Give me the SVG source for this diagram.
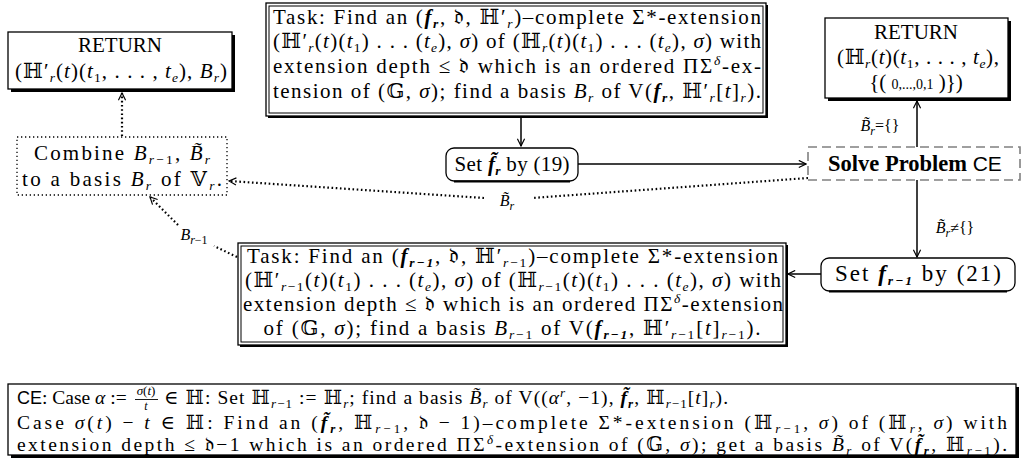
<svg xmlns="http://www.w3.org/2000/svg" width="1024" height="464" viewBox="0 0 1024 464">
<style>
.t{font-family:"Liberation Serif","DejaVu Serif",serif;font-size:21px;fill:#000}
.i{font-style:italic}
.b{font-weight:bold;font-style:italic}
.sb{font-size:13.5px;baseline-shift:-4px}
.sp{font-size:13.5px;baseline-shift:8px}
.sf{font-family:"Liberation Sans","DejaVu Sans",sans-serif;font-size:19px}
.lbl{font-size:16px}
.lbl .sb{font-size:12px;baseline-shift:-4px}
.ce{font-size:19.5px}
.ce .sb{font-size:13px;baseline-shift:-3.5px}
.ce .sp{font-size:13px;baseline-shift:7px}
.ce .sf{font-size:18px}
.box{fill:#fff;stroke:#000;stroke-width:1.3}
.inner{fill:none;stroke:#000;stroke-width:1}
.sh{fill:#000}
.solid{fill:none;stroke:#000;stroke-width:1.5}
.dot{fill:none;stroke:#000;stroke-width:2.2;stroke-dasharray:1.6 2.6}
</style>
<defs>
<marker id="ah" viewBox="0 0 10 10" refX="9" refY="5" markerWidth="9" markerHeight="9" markerUnits="userSpaceOnUse" orient="auto">
<path d="M1,1 L9,5 L1,9" fill="none" stroke="#000" stroke-width="1.3"/>
</marker>
</defs>
<rect width="1024" height="464" fill="#fff"/>

<g id="connectors">
<path class="dot" d="M122,136 L122,93" marker-end="url(#ah)"/>
<path class="solid" d="M521,117 L521,146" marker-end="url(#ah)"/>
<path class="solid" d="M578,164 L806,164" marker-end="url(#ah)"/>
<path class="solid" d="M917,180 L917,101" marker-end="url(#ah)"/>
<path class="solid" d="M917,180 L917,257" marker-end="url(#ah)"/>
<path class="solid" d="M821,274 L788,274" marker-end="url(#ah)"/>
<path class="dot" d="M808,178 L532,198"/>
<path class="dot" d="M484,198 L229,181" marker-end="url(#ah)"/>
<path class="dot" d="M237,257 L214,246"/>
<path class="dot" d="M178,225 L150,197" marker-end="url(#ah)"/>
<text class="t lbl" x="507" y="206" text-anchor="middle"><tspan class="i">B̃</tspan><tspan class="sb i">r</tspan></text>
<text class="t lbl" x="880" y="131" text-anchor="middle"><tspan class="i">B̃</tspan><tspan class="sb i">r</tspan>={}</text>
<text class="t lbl" x="955" y="233" text-anchor="middle"><tspan class="i">B̃</tspan><tspan class="sb i">r</tspan>≠{}</text>
<text class="t lbl" x="194" y="240" text-anchor="middle"><tspan class="i">B</tspan><tspan class="sb"><tspan class="i">r</tspan>−1</tspan></text>
</g>

<g id="return-left">
<rect class="sh" x="11" y="35" width="224" height="57"/>
<rect class="box" x="8" y="32" width="224" height="57"/>
<text class="t" x="120" y="52" text-anchor="middle">RETURN</text>
<text class="t" x="121" y="78" text-anchor="middle" textLength="212">(ℍ′<tspan class="sb i">r</tspan>(<tspan class="i">t</tspan>)(<tspan class="i">t</tspan><tspan class="sb">1</tspan>, . . . , <tspan class="i">t</tspan><tspan class="sb i">e</tspan>), <tspan class="i">B</tspan><tspan class="sb i">r</tspan>)</text>
</g>

<g id="task-top">
<rect class="sh" x="268" y="5" width="500" height="113"/>
<rect class="box" x="266" y="3" width="500" height="113"/>
<rect class="inner" x="269" y="6" width="494" height="107"/>
<text class="t" x="273" y="24" textLength="488">Task: Find an (<tspan class="b">f</tspan><tspan class="sb b">r</tspan>, 𝔡, ℍ′<tspan class="sb i">r</tspan>)–complete Σ*-extension</text>
<text class="t" x="273" y="48" textLength="488">(ℍ′<tspan class="sb i">r</tspan>(<tspan class="i">t</tspan>)(<tspan class="i">t</tspan><tspan class="sb">1</tspan>) . . . (<tspan class="i">t</tspan><tspan class="sb i">e</tspan>), <tspan class="i">σ</tspan>) of (ℍ<tspan class="sb i">r</tspan>(<tspan class="i">t</tspan>)(<tspan class="i">t</tspan><tspan class="sb">1</tspan>) . . . (<tspan class="i">t</tspan><tspan class="sb i">e</tspan>), <tspan class="i">σ</tspan>) with</text>
<text class="t" x="273" y="73" textLength="488">extension depth ≤ 𝔡 which is an ordered ΠΣ<tspan class="sp i">δ</tspan>-ex-</text>
<text class="t" x="273" y="98" textLength="488">tension of (𝔾, <tspan class="i">σ</tspan>); find a basis <tspan class="i">B</tspan><tspan class="sb i">r</tspan> of V(<tspan class="b">f</tspan><tspan class="sb b">r</tspan>, ℍ′<tspan class="sb i">r</tspan>[<tspan class="i">t</tspan>]<tspan class="sb i">r</tspan>).</text>
</g>

<g id="return-right">
<rect class="sh" x="828" y="21" width="183" height="80"/>
<rect class="box" x="825" y="18" width="183" height="80"/>
<text class="t" x="916" y="39" text-anchor="middle">RETURN</text>
<text class="t" x="918" y="64" text-anchor="middle" textLength="162">(ℍ<tspan class="sb i">r</tspan>(<tspan class="i">t</tspan>)(<tspan class="i">t</tspan><tspan class="sb">1</tspan>, . . . , <tspan class="i">t</tspan><tspan class="sb i">e</tspan>),</text>
<text class="t" x="916" y="89" text-anchor="middle">{( <tspan style="font-size:14px">0,...,0,1</tspan> )})</text>
</g>

<g id="combine">
<rect x="17" y="137" width="210" height="58" fill="#fff" stroke="#000" stroke-width="1.3" stroke-dasharray="1.3 2.7"/>
<text class="t" x="122" y="160" text-anchor="middle" textLength="176">Combine <tspan class="i">B</tspan><tspan class="sb"><tspan class="i">r</tspan>−1</tspan>, <tspan class="i">B̃</tspan><tspan class="sb i">r</tspan></text>
<text class="t" x="122" y="186" text-anchor="middle" textLength="200">to a basis <tspan class="i">B</tspan><tspan class="sb i">r</tspan> of 𝕍<tspan class="sb i">r</tspan>.</text>
</g>

<g id="set-fr">
<rect x="446" y="148" width="132" height="33" rx="8" fill="#fff" stroke="#000" stroke-width="1.3"/>
<path d="M454,181.5 L570,181.5" stroke="#000" stroke-width="2"/>
<text class="t" x="512" y="171" text-anchor="middle" textLength="115">Set <tspan class="b">f̃</tspan><tspan class="sb b">r</tspan> by (19)</text>
</g>

<g id="solve-ce">
<rect x="808" y="147" width="212" height="33" fill="#fff" stroke="#808080" stroke-width="1.6" stroke-dasharray="9 5"/>
<text class="t" x="915" y="171" text-anchor="middle" style="font-size:22.5px;font-weight:bold">Solve Problem <tspan class="sf" style="font-weight:normal;font-size:21px">CE</tspan></text>
</g>

<g id="set-fr1">
<rect x="821" y="258" width="194" height="33" rx="8" fill="#fff" stroke="#000" stroke-width="1.3"/>
<path d="M829,291.5 L1007,291.5" stroke="#000" stroke-width="2"/>
<text class="t" x="918" y="281" text-anchor="middle" style="font-size:23px" textLength="166">Set <tspan class="b">f</tspan><tspan class="sb b">r−1</tspan> by (21)</text>
</g>

<g id="task-mid">
<rect class="sh" x="240" y="245" width="548" height="102"/>
<rect class="box" x="238" y="243" width="548" height="102"/>
<rect class="inner" x="241" y="246" width="542" height="96"/>
<text class="t" x="247" y="263" textLength="531">Task: Find an (<tspan class="b">f</tspan><tspan class="sb b">r−1</tspan>, 𝔡, ℍ′<tspan class="sb"><tspan class="i">r</tspan>−1</tspan>)–complete Σ*-extension</text>
<text class="t" x="245" y="287" textLength="536">(ℍ′<tspan class="sb"><tspan class="i">r</tspan>−1</tspan>(<tspan class="i">t</tspan>)(<tspan class="i">t</tspan><tspan class="sb">1</tspan>) . . . (<tspan class="i">t</tspan><tspan class="sb i">e</tspan>), <tspan class="i">σ</tspan>) of (ℍ<tspan class="sb"><tspan class="i">r</tspan>−1</tspan>(<tspan class="i">t</tspan>)(<tspan class="i">t</tspan><tspan class="sb">1</tspan>) . . . (<tspan class="i">t</tspan><tspan class="sb i">e</tspan>), <tspan class="i">σ</tspan>) with</text>
<text class="t" x="243" y="311" textLength="540">extension depth ≤ 𝔡 which is an ordered ΠΣ<tspan class="sp i">δ</tspan>-extension</text>
<text class="t" x="512" y="335" text-anchor="middle" textLength="497">of (𝔾, <tspan class="i">σ</tspan>); find a basis <tspan class="i">B</tspan><tspan class="sb"><tspan class="i">r</tspan>−1</tspan> of V(<tspan class="b">f</tspan><tspan class="sb b">r−1</tspan>, ℍ′<tspan class="sb"><tspan class="i">r</tspan>−1</tspan>[<tspan class="i">t</tspan>]<tspan class="sb"><tspan class="i">r</tspan>−1</tspan>).</text>
</g>

<g id="ce-box">
<rect class="sh" x="11" y="387" width="1008" height="71"/>
<rect class="box" x="8" y="384" width="1008" height="71"/>
<text class="t ce" x="17" y="404"><tspan class="sf">CE</tspan>: Case <tspan class="i">α</tspan> :=</text>
<text class="t" x="146" y="395" text-anchor="middle" style="font-size:13px"><tspan class="i">σ</tspan>(<tspan class="i">t</tspan>)</text>
<path d="M135,399.5 L158,399.5" stroke="#000" stroke-width="0.9"/>
<text class="t i" x="146" y="410" text-anchor="middle" style="font-size:12px">t</text>
<text class="t ce" x="164" y="404" textLength="564">∈ ℍ: Set ℍ<tspan class="sb"><tspan class="i">r</tspan>−1</tspan> := ℍ<tspan class="sb i">r</tspan>; find a basis <tspan class="i">B̃</tspan><tspan class="sb i">r</tspan> of V((<tspan class="i">α</tspan><tspan class="sp i">r</tspan>, −1), <tspan class="b">f̃</tspan><tspan class="sb b">r</tspan>, ℍ<tspan class="sb"><tspan class="i">r</tspan>−1</tspan>[<tspan class="i">t</tspan>]<tspan class="sb i">r</tspan>).</text>
<text class="t ce" x="17" y="429" textLength="990">Case <tspan class="i">σ</tspan>(<tspan class="i">t</tspan>) − <tspan class="i">t</tspan> ∈ ℍ: Find an (<tspan class="b">f̃</tspan><tspan class="sb b">r</tspan>, ℍ<tspan class="sb"><tspan class="i">r</tspan>−1</tspan>, 𝔡 − 1)–complete Σ*-extension (ℍ<tspan class="sb"><tspan class="i">r</tspan>−1</tspan>, <tspan class="i">σ</tspan>) of (ℍ<tspan class="sb i">r</tspan>, <tspan class="i">σ</tspan>) with</text>
<text class="t ce" x="17" y="451" textLength="990">extension depth ≤ 𝔡−1 which is an ordered ΠΣ<tspan class="sp i">δ</tspan>-extension of (𝔾, <tspan class="i">σ</tspan>); get a basis <tspan class="i">B̃</tspan><tspan class="sb i">r</tspan> of V(<tspan class="b">f̃</tspan><tspan class="sb b">r</tspan>, ℍ<tspan class="sb"><tspan class="i">r</tspan>−1</tspan>).</text>
</g>
</svg>
